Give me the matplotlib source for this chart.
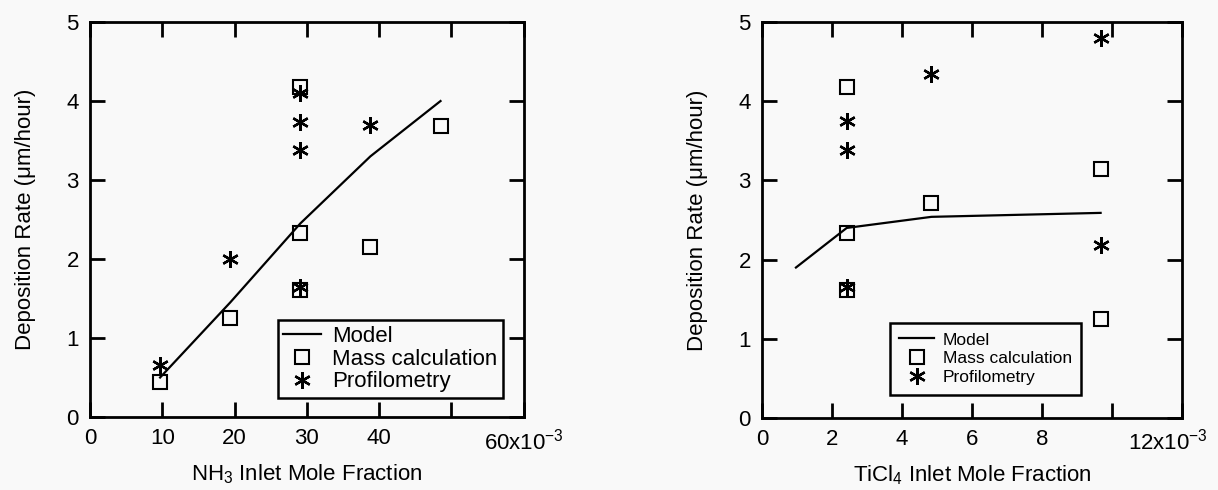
import matplotlib
matplotlib.use("Agg")
import matplotlib.pyplot as plt
import matplotlib.transforms as mtransforms
from matplotlib.ticker import FixedLocator, FixedFormatter

plt.rcParams['font.family'] = ['Liberation Sans', 'DejaVu Sans']
plt.rcParams['mathtext.fontset'] = 'custom'
plt.rcParams['mathtext.rm'] = 'Liberation Sans'
plt.rcParams['mathtext.default'] = 'regular'

# NH3 panel (x in units of 1e-3)
nh3_model_x = [9.7, 19.4, 29.1, 38.8, 48.5]
nh3_model_y = [0.5, 1.45, 2.45, 3.3, 4.0]
nh3_mass_x = [9.7, 19.4, 29.1, 29.1, 29.1, 38.8, 48.5]
nh3_mass_y = [0.44, 1.25, 2.33, 4.18, 1.61, 2.15, 3.68]
nh3_prof_x = [9.7, 19.4, 29.1, 29.1, 29.1, 29.1, 38.8]
nh3_prof_y = [0.66, 2.0, 4.1, 3.74, 3.38, 1.65, 3.7]
nh3_ticks = [0, 10, 20, 30, 40, 50, 60]
nh3_labels = ['0', '10', '20', '30', '40', '', '60x10$^{-3}$']

# TiCl4 panel (x in units of 1e-3)
ticl_model_x = [0.97, 2.42, 4.84, 9.67]
ticl_model_y = [1.9, 2.4, 2.54, 2.59]
ticl_mass_x = [2.42, 2.42, 2.42, 4.84, 9.67, 9.67]
ticl_mass_y = [4.18, 2.33, 1.62, 2.71, 3.14, 1.25]
ticl_prof_x = [2.42, 2.42, 2.42, 4.84, 9.67, 9.67]
ticl_prof_y = [3.75, 3.38, 1.65, 4.35, 4.8, 2.19]
ticl_ticks = [0, 2, 4, 6, 8, 10, 12]
ticl_labels = ['0', '2', '4', '6', '8', '', '12x10$^{-3}$']

y_ticks = [0, 1, 2, 3, 4, 5]

bg = '#f9f9f9'
fig = plt.figure(figsize=(12.18, 4.9), dpi=100, facecolor=bg)
ax1 = fig.add_axes([0.0739, 0.149, 0.356, 0.806])
ax2 = fig.add_axes([0.6256, 0.147, 0.345, 0.808])

star = (6, 2, 0)


def draw(ax, mx, my, sx, sy, px, py, ticks, labels, xmax, xlabel,
         legsize, hlen, bpad, lspace, anchor):
    ax.set_facecolor(bg)
    ax.plot(mx, my, color='black', lw=1.6, label='Model')
    ax.plot(sx, sy, ls='none', marker='s', ms=10, mfc='none', mec='black', mew=1.5,
            label='Mass calculation')
    ax.plot(px, py, ls='none', marker=star, ms=12, color='black', mew=1.7,
            label='Profilometry')
    ax.set_xlim(0, xmax)
    ax.set_ylim(0, 5)
    ax.xaxis.set_major_locator(FixedLocator(ticks))
    ax.xaxis.set_major_formatter(FixedFormatter(labels))
    ax.set_yticks(y_ticks)
    ax.tick_params(direction='in', length=11, width=2, top=True, right=True,
                   labelsize=16, pad=8)
    for s in ax.spines.values():
        s.set_linewidth(2)
    ax.set_xlabel(xlabel, fontsize=16, labelpad=6)
    ax.set_ylabel('Deposition Rate (\u03bcm/hour)', fontsize=16, labelpad=22)
    leg = ax.legend(loc='lower right', bbox_to_anchor=anchor, fontsize=legsize,
                    fancybox=False, framealpha=1, edgecolor='black',
                    borderpad=bpad, labelspacing=lspace, handlelength=hlen,
                    handletextpad=0.5, borderaxespad=0)
    leg.get_frame().set_linewidth(1.8)
    leg.get_frame().set_facecolor(bg)


draw(ax1, nh3_model_x, nh3_model_y, nh3_mass_x, nh3_mass_y, nh3_prof_x, nh3_prof_y,
     nh3_ticks, nh3_labels, 60, 'NH$_3$ Inlet Mole Fraction',
     16, 1.7, 0.25, 0.08, (0.952, 0.048))
draw(ax2, ticl_model_x, ticl_model_y, ticl_mass_x, ticl_mass_y, ticl_prof_x, ticl_prof_y,
     ticl_ticks, ticl_labels, 12, 'TiCl$_4$ Inlet Mole Fraction',
     12.5, 2.0, 0.55, 0.22, (0.76, 0.058))

# nudge the right-most exponent label so it stays inside the figure
last = ax2.get_xticklabels()[-1]
last.set_transform(last.get_transform() +
                   mtransforms.ScaledTranslation(-10 / 72, 0, fig.dpi_scale_trans))

fig.savefig('out.png', dpi=100, facecolor=bg)
